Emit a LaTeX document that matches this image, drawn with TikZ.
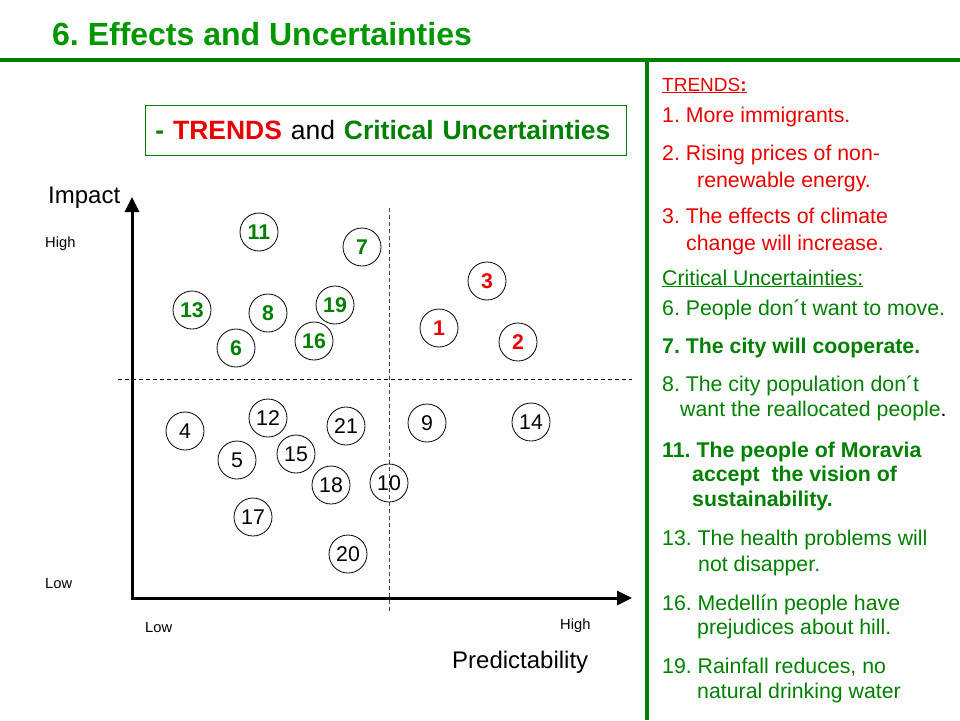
\documentclass[tikz,border=0pt]{standalone}
\usepackage{fontspec}
\setmainfont{Liberation Sans}
\usetikzlibrary{arrows.meta}
\definecolor{headgreen}{RGB}{0,150,0}
\definecolor{rulegreen}{RGB}{0,128,0}
\definecolor{critgreen}{RGB}{0,128,0}
\definecolor{trendred}{RGB}{235,0,0}
\newcommand{\fsz}[1]{\fontsize{#1}{#1}\selectfont}
\frenchspacing

\begin{document}
\begin{tikzpicture}[x=1pt, y=-1pt,
    bubble/.style={draw, circle, line width=0.8pt, minimum size=38pt, inner sep=0pt, font=\fsz{21.3}},
    trendbub/.style={bubble, text=trendred, font=\fsz{21.3}\bfseries},
    critbub/.style={bubble, text=critgreen, font=\fsz{21.3}\bfseries},
    legend/.style={anchor=base west, inner sep=0pt, font=\fsz{21.3}},
    axislbl/.style={anchor=base west, inner sep=0pt, font=\fsz{14.7}},
    axis/.style={line width=3pt, {Triangle[length=15pt,width=14pt]}-{Triangle[length=15pt,width=14pt]}},
    splitline/.style={line width=0.9pt, dash pattern=on 4pt off 3pt}]
	%%%%% START %%%%%
	\useasboundingbox (0,0) rectangle (960,720);
	
	\node[anchor=base west, inner sep=0pt, text=headgreen, font=\fsz{32}\bfseries] (title) at (52,45) {6. Effects and Uncertainties};
	\draw[rulegreen, line width=4pt] (0,60) -- (960,60);
	\draw[rulegreen, line width=4pt] (647,58) -- (647,720);
	
	\node[draw=rulegreen, line width=0.8pt, anchor=north west, text width=461pt, inner xsep=10pt, inner ysep=0pt,
	      minimum height=50pt, align=left, font=\fsz{26.5}] (subtitle) at (145,105)
	  {\textcolor{critgreen}{\bfseries -} \textcolor{trendred}{\bfseries TRENDS} and \textcolor{critgreen}{\bfseries Critical Uncertainties}};
	
	% axes
	\coordinate (ytip) at (132,197);
	\coordinate (xtip) at (632,598);
	\draw[axis] (ytip) |- (xtip);
	\coordinate (hleft) at (118,379);
	\coordinate (hright) at (632,379);
	\coordinate (vtop) at (389,208);
	\coordinate (vbot) at (389,612);
	\draw[splitline] (hleft) -- (hright);
	\draw[splitline, black!75] (vtop) -- (vbot);
	
	\node[anchor=base west, inner sep=0pt, font=\fsz{24}] (impact) at (48,203) {Impact};
	\node[anchor=base west, inner sep=0pt, font=\fsz{24}] (predict) at (452,668) {Predictability};
	\node[axislbl] (yhigh) at (45,247) {High};
	\node[axislbl] (ylow) at (45,588) {Low};
	\node[axislbl] (xlow) at (145,632) {Low};
	\node[axislbl] (xhigh) at (560,629) {High};
	
	% trends
	\node[trendbub] (b1) at (439,328) {1};
	\node[trendbub] (b2) at (518,342) {2};
	\node[trendbub] (b3) at (487,281) {3};
	
	% critical uncertainties
	\node[critbub] (b6) at (236,348) {6};
	\node[critbub] (b7) at (362,247) {7};
	\node[critbub] (b8) at (268,313) {8};
	\node[critbub] (b11) at (259,232) {11};
	\node[critbub] (b13) at (192,310) {13};
	\node[critbub] (b16) at (314,341) {16};
	\node[critbub] (b19) at (335,305) {19};
	
	% the rest
	\node[bubble] (b4) at (185,431) {4};
	\node[bubble] (b5) at (237,460) {5};
	\node[bubble] (b9) at (427,423) {9};
	\node[bubble] (b10) at (389,483) {10};
	\node[bubble] (b12) at (268,418) {12};
	\node[bubble] (b14) at (531,422) {14};
	\node[bubble] (b15) at (296,454) {15};
	\node[bubble] (b17) at (253,517) {17};
	\node[bubble] (b18) at (331,485) {18};
	\node[bubble] (b20) at (348,554) {20};
	\node[bubble] (b21) at (346,426) {21};
	
	% right column
	\node[legend, text=trendred, font=\fsz{19}] (trendhead) at (662,91) {\underline{TRENDS\textbf{:}}};
	\node[legend, text=trendred] (tr1) at (662,122) {1. More immigrants.};
	\node[legend, text=trendred] (tr2a) at (662,160) {2. Rising prices of non-};
	\node[legend, text=trendred] (tr2b) at (697,187) {renewable energy.};
	\node[legend, text=trendred] (tr3a) at (662,223) {3. The effects of climate};
	\node[legend, text=trendred] (tr3b) at (686,250) {change will increase.};
	
	\node[legend, text=critgreen] (crithead) at (662,285) {\underline{Critical Uncertainties:}};
	\node[legend, text=critgreen] (cu6) at (662,315) {6. People don´t want to move.};
	\node[legend, text=critgreen, font=\fsz{21.3}\bfseries] (cu7) at (662,353) {7. The city will cooperate.};
	\node[legend, text=critgreen] (cu8a) at (662,391) {8. The city population don´t};
	\node[legend, text=critgreen] (cu8b) at (680,416) {want the reallocated people{\color{black}.}};
	\node[legend, text=critgreen, font=\fsz{21.3}\bfseries] (cu11a) at (662,457) {11. The people of Moravia};
	\node[legend, text=critgreen, font=\fsz{21.3}\bfseries] (cu11b) at (692,481) {accept~ the vision of};
	\node[legend, text=critgreen, font=\fsz{21.3}\bfseries] (cu11c) at (692,506) {sustainability.};
	\node[legend, text=critgreen] (cu13a) at (662,545) {13. The health problems will};
	\node[legend, text=critgreen] (cu13b) at (698,571) {not disapper.};
	\node[legend, text=critgreen] (cu16a) at (662,610) {16. Medellín people have};
	\node[legend, text=critgreen] (cu16b) at (697,634) {prejudices about hill.};
	\node[legend, text=critgreen] (cu19a) at (662,673) {19. Rainfall reduces, no};
	\node[legend, text=critgreen] (cu19b) at (697,698) {natural drinking water};
	%%%%% END %%%%%
\end{tikzpicture}
\end{document}
